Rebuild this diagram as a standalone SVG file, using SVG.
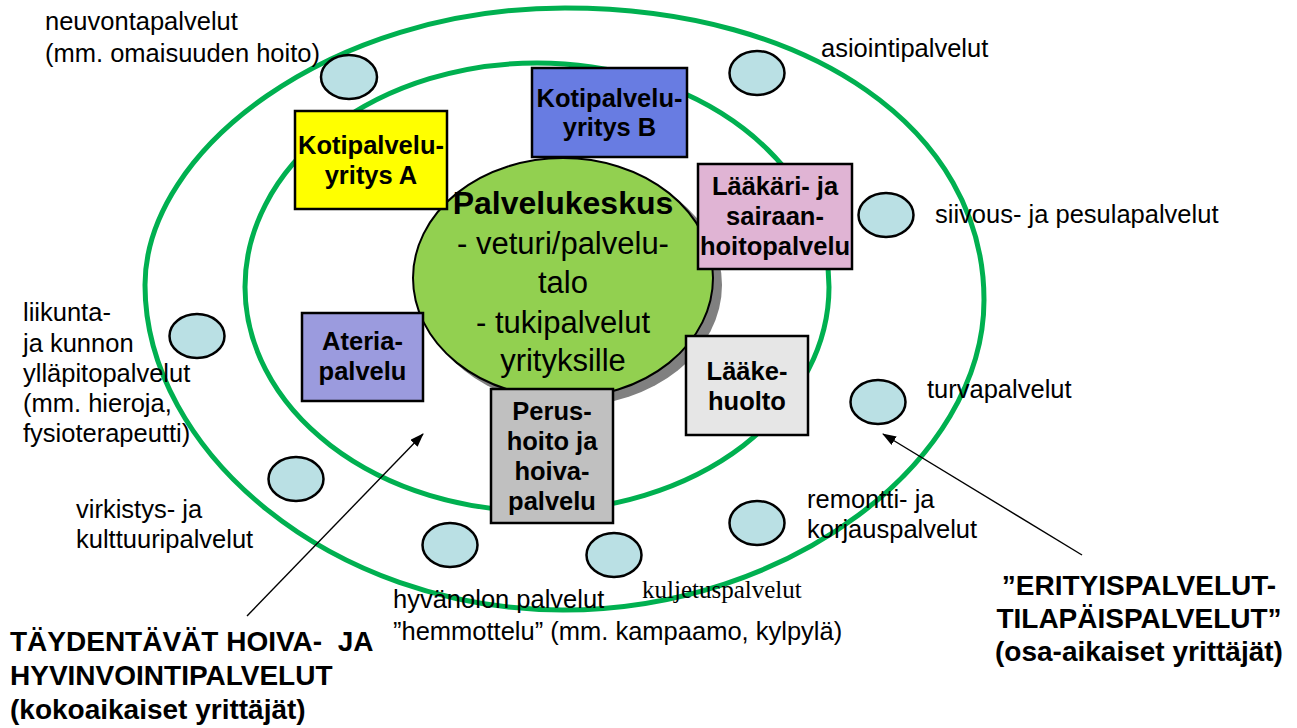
<svg xmlns="http://www.w3.org/2000/svg" width="1297" height="728" viewBox="0 0 1297 728">
<style>
.ring{fill:none;stroke:#00B050;stroke-width:5}
.box{stroke:#000;stroke-width:2.5}
.bt{font-family:"Liberation Sans",Arial,sans-serif;font-weight:bold;font-size:25.5px;fill:#000;text-anchor:middle}
.lbl{font-family:"Liberation Sans",Arial,sans-serif;font-size:25.5px;fill:#000}
.big{font-family:"Liberation Sans",Arial,sans-serif;font-weight:bold;font-size:28px;fill:#000}
.ct{font-family:"Liberation Sans",Arial,sans-serif;font-size:31px;fill:#000;text-anchor:middle}
.svc{fill:#BAE0E4;stroke:#000;stroke-width:2.5}
.arr{stroke:#000;stroke-width:1.4;fill:none;marker-end:url(#ah)}
</style>
<defs>
<marker id="ah" viewBox="0 0 14 10" refX="13" refY="5" markerWidth="14" markerHeight="10" markerUnits="userSpaceOnUse" orient="auto">
<path d="M0,0 L14,5 L0,10 z" fill="#000"/>
</marker>
</defs>
<rect width="1297" height="728" fill="#fff"/>
<g id="rings">
<path class="ring" d="M565,8 C810,8 984,130 984,300 C984,460 790,610 563,610 C330,610 145,450 145,285 C145,150 330,8 565,8 Z"/>
<ellipse class="ring" cx="537" cy="287" rx="292" ry="224"/>
</g>
<g id="palvelukeskus">
<ellipse cx="571" cy="285" rx="151" ry="121" fill="#808080"/>
<ellipse cx="563" cy="278" rx="150" ry="120" fill="#92D050" stroke="#000" stroke-width="2"/>
<text class="ct" x="563" y="214" style="font-weight:bold;font-size:32px">Palvelukeskus</text>
<text class="ct" x="563" y="254">- veturi/palvelu-</text>
<text class="ct" x="563" y="293">talo</text>
<text class="ct" x="563" y="333">- tukipalvelut</text>
<text class="ct" x="563" y="371">yrityksille</text>
</g>
<g id="kotipalvelu-a">
<rect class="box" x="295" y="111" width="152" height="98" fill="#FFFF00"/>
<text class="bt" x="371" y="154">Kotipalvelu-</text>
<text class="bt" x="371" y="184">yritys A</text>
</g>
<g id="kotipalvelu-b">
<rect class="box" x="532" y="68" width="155" height="89" fill="#687CE2"/>
<text class="bt" x="609.5" y="107">Kotipalvelu-</text>
<text class="bt" x="609.5" y="136">yritys B</text>
</g>
<g id="laakari">
<rect class="box" x="698" y="164" width="154" height="105" fill="#E0B4D4"/>
<text class="bt" x="775" y="195">Lääkäri- ja</text>
<text class="bt" x="775" y="225">sairaan-</text>
<text class="bt" x="775" y="255">hoitopalvelu</text>
</g>
<g id="ateria">
<rect class="box" x="302" y="313" width="121" height="88" fill="#9B9BDE"/>
<text class="bt" x="362.5" y="350">Ateria-</text>
<text class="bt" x="362.5" y="380">palvelu</text>
</g>
<g id="perushoito">
<rect class="box" x="491" y="389" width="122" height="134" fill="#C0C0C0"/>
<text class="bt" x="552" y="420">Perus-</text>
<text class="bt" x="552" y="450">hoito ja</text>
<text class="bt" x="552" y="480">hoiva-</text>
<text class="bt" x="552" y="510">palvelu</text>
</g>
<g id="laakehuolto">
<rect class="box" x="686" y="336" width="122" height="99" fill="#E6E6E6"/>
<text class="bt" x="747" y="380">Lääke-</text>
<text class="bt" x="747" y="410">huolto</text>
</g>
<g id="neuvonta">
<ellipse class="svc" cx="349" cy="77" rx="28" ry="22"/>
<text class="lbl" x="45" y="30">neuvontapalvelut</text>
<text class="lbl" x="45" y="62">(mm. omaisuuden hoito)</text>
</g>
<g id="asiointi">
<ellipse class="svc" cx="757" cy="73" rx="27.5" ry="22"/>
<text class="lbl" x="821" y="57">asiointipalvelut</text>
</g>
<g id="siivous">
<ellipse class="svc" cx="886" cy="215" rx="27.5" ry="22"/>
<text class="lbl" x="935" y="223">siivous- ja pesulapalvelut</text>
</g>
<g id="liikunta">
<ellipse class="svc" cx="197" cy="336" rx="27.5" ry="22"/>
<text class="lbl" x="23" y="321">liikunta-</text>
<text class="lbl" x="23" y="352">ja kunnon</text>
<text class="lbl" x="23" y="382">ylläpitopalvelut</text>
<text class="lbl" x="23" y="412">(mm. hieroja,</text>
<text class="lbl" x="23" y="442">fysioterapeutti)</text>
</g>
<g id="virkistys">
<ellipse class="svc" cx="296" cy="479" rx="27.5" ry="22"/>
<text class="lbl" x="76" y="518">virkistys- ja</text>
<text class="lbl" x="76" y="548">kulttuuripalvelut</text>
</g>
<g id="hyvanolo">
<ellipse class="svc" cx="450" cy="545" rx="27.5" ry="22"/>
<text class="lbl" x="393" y="608">hyvänolon palvelut</text>
<text class="lbl" x="393" y="640">”hemmottelu” (mm. kampaamo, kylpylä)</text>
</g>
<g id="kuljetus">
<ellipse class="svc" cx="614" cy="555" rx="27.5" ry="22"/>
<text x="642" y="598" style="font-family:'Liberation Serif','Times New Roman',serif;font-size:25px;fill:#000">kuljetuspalvelut</text>
</g>
<g id="remontti">
<ellipse class="svc" cx="757" cy="523" rx="27.5" ry="22"/>
<text class="lbl" x="807" y="508">remontti- ja</text>
<text class="lbl" x="807" y="538">korjauspalvelut</text>
</g>
<g id="turva">
<ellipse class="svc" cx="878" cy="402" rx="27.5" ry="22"/>
<text class="lbl" x="927" y="398">turvapalvelut</text>
</g>
<g id="taydentavat">
<text class="big" x="10" y="651" style="white-space:pre">TÄYDENTÄVÄT HOIVA-  JA</text>
<text class="big" x="10" y="685">HYVINVOINTIPALVELUT</text>
<text class="big" x="10" y="719">(kokoaikaiset yrittäjät)</text>
</g>
<g id="erityis">
<text class="big" x="1139" y="595" text-anchor="middle">”ERITYISPALVELUT-</text>
<text class="big" x="1139" y="628" text-anchor="middle">TILAPÄISPALVELUT”</text>
<text class="big" x="1139" y="661" text-anchor="middle">(osa-aikaiset yrittäjät)</text>
</g>
<g id="connectors">
<line class="arr" x1="247" y1="616" x2="423" y2="434"/>
<line class="arr" x1="1082" y1="555" x2="883" y2="434"/>
</g>
</svg>
